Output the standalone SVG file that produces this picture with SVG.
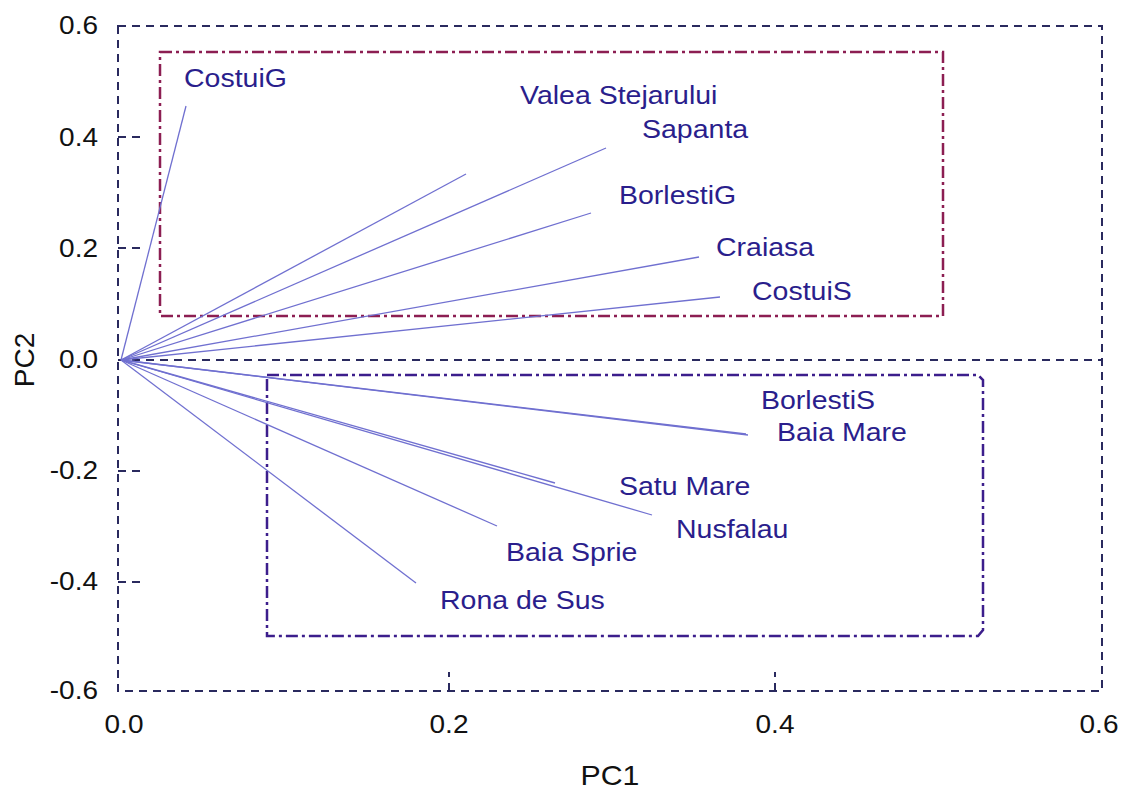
<svg xmlns="http://www.w3.org/2000/svg" width="1124" height="789" viewBox="0 0 1124 789">
  <style>
    text { font-family: "Liberation Sans", Arial, sans-serif; }
    .lbl { font-size: 25px; fill: #2a1e8c; }
    .tick { font-size: 25px; fill: #111111; }
    .axis { font-size: 28px; fill: #111111; }
    .frame { fill: none; stroke: #2a2a5e; stroke-width: 2; stroke-dasharray: 8 6; }
    .boxA { fill: none; stroke: #8c1e52; stroke-width: 2.5; stroke-dasharray: 12 4 3 4; }
    .boxB { fill: none; stroke: #3c1e8c; stroke-width: 2.5; stroke-dasharray: 12 4 3 4; }
    .vec { stroke: #7070d0; stroke-width: 1.3; fill: none; }
  </style>
  <rect width="1124" height="789" fill="#ffffff"/>

  <g id="axes">
    <rect class="frame" x="118" y="26" width="984" height="665"/>
    <line class="frame" x1="118" y1="360" x2="1102" y2="360"/>
    <line class="frame" x1="118" y1="137" x2="140" y2="137"/>
    <line class="frame" x1="118" y1="248" x2="140" y2="248"/>
    <line class="frame" x1="118" y1="471" x2="140" y2="471"/>
    <line class="frame" x1="118" y1="582" x2="140" y2="582"/>
    <line class="frame" x1="449" y1="691" x2="449" y2="672"/>
    <line class="frame" x1="775" y1="691" x2="775" y2="672"/>
    <g class="tick" text-anchor="end">
      <text transform="translate(98 34) scale(1.12 1)">0.6</text>
      <text transform="translate(98 146) scale(1.12 1)">0.4</text>
      <text transform="translate(98 257) scale(1.12 1)">0.2</text>
      <text transform="translate(98 368) scale(1.12 1)">0.0</text>
      <text transform="translate(98 479) scale(1.12 1)">-0.2</text>
      <text transform="translate(98 590) scale(1.12 1)">-0.4</text>
      <text transform="translate(98 699) scale(1.12 1)">-0.6</text>
    </g>
    <g class="tick" text-anchor="middle">
      <text transform="translate(124 733) scale(1.12 1)">0.0</text>
      <text transform="translate(449 733) scale(1.12 1)">0.2</text>
      <text transform="translate(775 733) scale(1.12 1)">0.4</text>
      <text transform="translate(1099 733) scale(1.12 1)">0.6</text>
    </g>
    <text class="axis" text-anchor="middle" transform="translate(610 785) scale(1.08 1)">PC1</text>
    <text class="axis" text-anchor="middle" transform="translate(34 360) rotate(-90)">PC2</text>
  </g>

  <g id="groups">
    <rect id="group-upper" class="boxA" x="160" y="52" width="783" height="264"/>
    <path id="group-lower" class="boxB" d="M267,375 L978,375 L983,380 L983,630 L978,636 L267,636 Z"/>
  </g>

  <g id="connectors">
    <line class="vec" x1="121" y1="360" x2="186" y2="106"/>
    <line class="vec" x1="121" y1="360" x2="466" y2="174"/>
    <line class="vec" x1="121" y1="360" x2="606" y2="148"/>
    <line class="vec" x1="121" y1="360" x2="591" y2="213"/>
    <line class="vec" x1="121" y1="360" x2="699" y2="257"/>
    <line class="vec" x1="121" y1="360" x2="720" y2="297"/>
    <line class="vec" x1="121" y1="360" x2="746" y2="434"/>
    <line class="vec" x1="121" y1="360" x2="748" y2="435"/>
    <line class="vec" x1="121" y1="360" x2="555" y2="483"/>
    <line class="vec" x1="121" y1="360" x2="652" y2="515"/>
    <line class="vec" x1="121" y1="360" x2="497" y2="526"/>
    <line class="vec" x1="121" y1="360" x2="416" y2="583"/>
  </g>

  <g id="node-costuig"><text class="lbl" transform="translate(184 87) scale(1.14 1)">CostuiG</text></g>
  <g id="node-valea-stejarului"><text class="lbl" transform="translate(520 104) scale(1.14 1)">Valea Stejarului</text></g>
  <g id="node-sapanta"><text class="lbl" transform="translate(642 138) scale(1.14 1)">Sapanta</text></g>
  <g id="node-borlestig"><text class="lbl" transform="translate(619 204) scale(1.14 1)">BorlestiG</text></g>
  <g id="node-craiasa"><text class="lbl" transform="translate(716 256) scale(1.14 1)">Craiasa</text></g>
  <g id="node-costuis"><text class="lbl" transform="translate(752 300) scale(1.14 1)">CostuiS</text></g>
  <g id="node-borlestis"><text class="lbl" transform="translate(761 409) scale(1.14 1)">BorlestiS</text></g>
  <g id="node-baia-mare"><text class="lbl" transform="translate(777 441) scale(1.14 1)">Baia Mare</text></g>
  <g id="node-satu-mare"><text class="lbl" transform="translate(619 495) scale(1.14 1)">Satu Mare</text></g>
  <g id="node-nusfalau"><text class="lbl" transform="translate(676 538) scale(1.14 1)">Nusfalau</text></g>
  <g id="node-baia-sprie"><text class="lbl" transform="translate(506 561) scale(1.14 1)">Baia Sprie</text></g>
  <g id="node-rona-de-sus"><text class="lbl" transform="translate(440 609) scale(1.14 1)">Rona de Sus</text></g>
</svg>
